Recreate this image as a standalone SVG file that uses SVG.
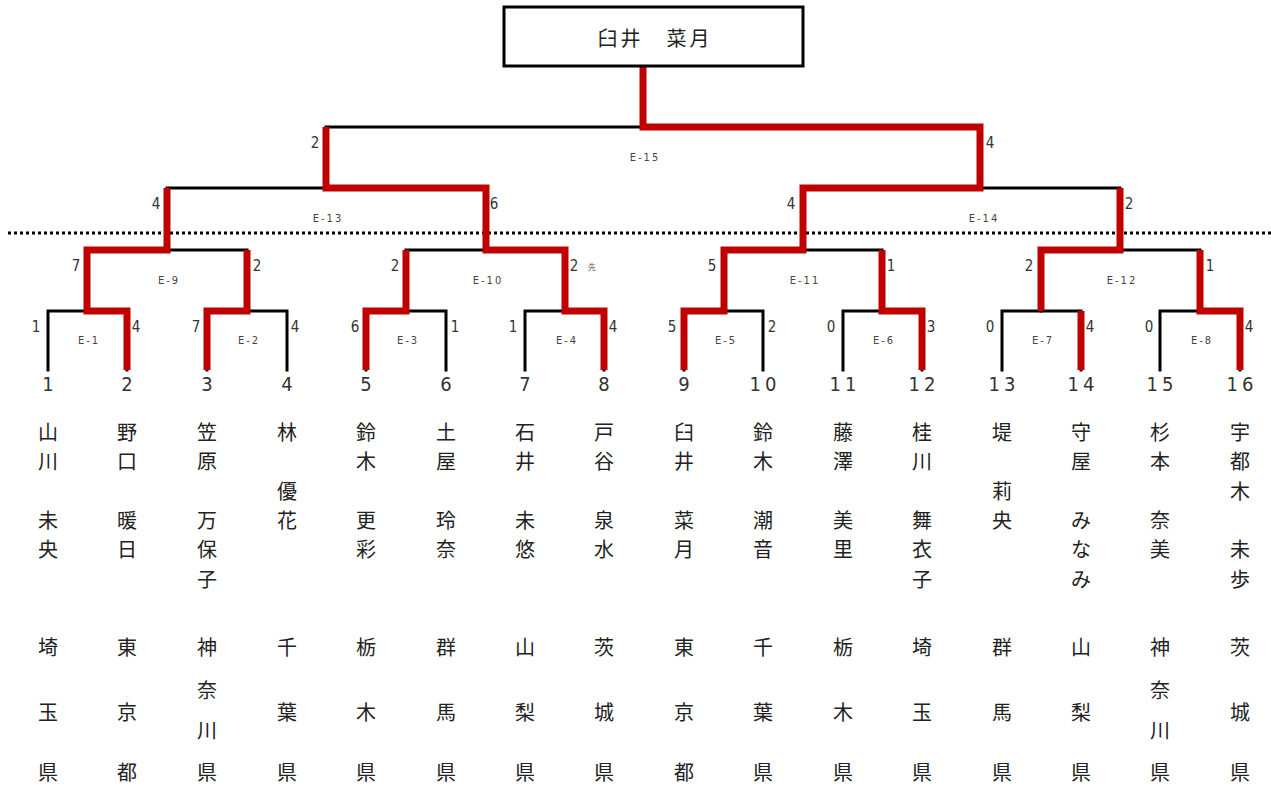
<svg xmlns="http://www.w3.org/2000/svg" width="1271" height="787" viewBox="0 0 1271 787">
<style>
.blk{fill:none;stroke:#000;stroke-width:3;stroke-linejoin:miter;stroke-linecap:square}
.red{fill:none;stroke:#C00000;stroke-width:7;stroke-linejoin:miter;stroke-linecap:butt}
.dot{stroke:#000;stroke-width:3;stroke-dasharray:3 3}
.sc{font-family:"DejaVu Sans Condensed","Liberation Sans",sans-serif;font-stretch:condensed;font-size:15px;fill:#333;text-anchor:middle;dominant-baseline:central}
.el{font-family:"DejaVu Sans Condensed","Liberation Sans",sans-serif;font-stretch:condensed;font-size:11px;fill:#444;text-anchor:middle;dominant-baseline:central;letter-spacing:2px}
.num{font-family:"DejaVu Sans Condensed","Liberation Sans",sans-serif;font-stretch:condensed;font-size:20px;fill:#333;text-anchor:middle;dominant-baseline:central}
.jp{font-family:"Noto Sans CJK JP","Noto Sans CJK SC",sans-serif;font-size:20px;fill:#222;text-anchor:middle;dominant-baseline:central}
.sen{font-family:"Noto Sans CJK JP",sans-serif;font-size:8px;fill:#555;dominant-baseline:central}
</style>
<rect width="1271" height="787" fill="#fff"/>
<line class="dot" x1="8" y1="233" x2="1271" y2="233"/>
<g id="connectors">
<g id="black-lines">
<path class="blk" d="M48,370V311H127V370M207,370V311H287V370M366,370V311H446V370M525,370V311H604V370M684,370V311H763V370M843,370V311H922V370M1002,370V311H1081V370M1160,370V311H1240V370"/>
<path class="blk" d="M87,311V250H247V311M406,311V250H565V311M724,311V250H882V311M1041,311V250H1200V311"/>
<path class="blk" d="M167,250V188H486V250M803,250V188H1120V250"/>
<path class="blk" d="M326,188V127H980V188"/>
</g>
<g id="red-lines">
<path class="red" d="M127,370V311H87V250H167V188"/>
<path class="red" d="M207,370V311H247V250"/>
<path class="red" d="M366,370V311H406V250"/>
<path class="red" d="M604,370V311H565V250H486V188H326V127"/>
<path class="red" d="M684,370V311H724V250H803V188H980V127H643V66"/>
<path class="red" d="M922,370V311H882V250"/>
<path class="red" d="M1081,370V311"/>
<path class="red" d="M1041,311V250H1120V188"/>
<path class="red" d="M1240,370V311H1200V250"/>
</g>
<g id="scores">
<text class="sc" x="36" y="327">1</text><text class="sc" x="136" y="327">4</text>
<text class="sc" x="196" y="327">7</text><text class="sc" x="295" y="327">4</text>
<text class="sc" x="355" y="327">6</text><text class="sc" x="455" y="327">1</text>
<text class="sc" x="513" y="327">1</text><text class="sc" x="613" y="327">4</text>
<text class="sc" x="672" y="327">5</text><text class="sc" x="772" y="327">2</text>
<text class="sc" x="831" y="327">0</text><text class="sc" x="931" y="327">3</text>
<text class="sc" x="990" y="327">0</text><text class="sc" x="1090" y="327">4</text>
<text class="sc" x="1149" y="327">0</text><text class="sc" x="1249" y="327">4</text>
<text class="sc" x="76" y="266">7</text><text class="sc" x="257" y="266">2</text>
<text class="sc" x="395" y="266">2</text><text class="sc" x="574" y="266">2</text>
<text class="sen" x="588" y="266">先</text>
<text class="sc" x="712" y="266">5</text><text class="sc" x="891" y="266">1</text>
<text class="sc" x="1029" y="266">2</text><text class="sc" x="1210" y="266">1</text>
<text class="sc" x="156" y="204">4</text><text class="sc" x="494" y="204">6</text>
<text class="sc" x="791" y="204">4</text><text class="sc" x="1129" y="204">2</text>
<text class="sc" x="315" y="143">2</text><text class="sc" x="990" y="143">4</text>
</g>
<g id="match-labels">
<text class="el" x="89" y="340">E-1</text><text class="el" x="249" y="340">E-2</text>
<text class="el" x="408" y="340">E-3</text><text class="el" x="567" y="340">E-4</text>
<text class="el" x="726" y="340">E-5</text><text class="el" x="884" y="340">E-6</text>
<text class="el" x="1043" y="340">E-7</text><text class="el" x="1202" y="340">E-8</text>
<text class="el" x="169" y="280">E-9</text><text class="el" x="488" y="280">E-10</text>
<text class="el" x="805" y="280">E-11</text><text class="el" x="1122" y="280">E-12</text>
<text class="el" x="328" y="218">E-13</text><text class="el" x="984" y="218">E-14</text>
<text class="el" x="645" y="157">E-15</text>
</g>
</g>
<g id="champion">
<rect x="504" y="7" width="299" height="59" fill="#fff" stroke="#000" stroke-width="3"/>
<text class="jp" x="655" y="37" font-size="22" letter-spacing="3">臼井　菜月</text>
</g>
<g id="e1"><text class="num" x="48" y="384">1</text><text class="jp"><tspan x="48" y="431">山</tspan><tspan x="48" y="460">川</tspan><tspan x="48" y="519">未</tspan><tspan x="48" y="548">央</tspan><tspan x="48" y="646">埼</tspan><tspan x="48" y="711">玉</tspan><tspan x="48" y="771">県</tspan></text></g>
<g id="e2"><text class="num" x="127" y="384">2</text><text class="jp"><tspan x="127" y="431">野</tspan><tspan x="127" y="460">口</tspan><tspan x="127" y="519">暖</tspan><tspan x="127" y="548">日</tspan><tspan x="127" y="646">東</tspan><tspan x="127" y="711">京</tspan><tspan x="127" y="771">都</tspan></text></g>
<g id="e3"><text class="num" x="207" y="384">3</text><text class="jp"><tspan x="207" y="431">笠</tspan><tspan x="207" y="460">原</tspan><tspan x="207" y="519">万</tspan><tspan x="207" y="548">保</tspan><tspan x="207" y="578">子</tspan><tspan x="207" y="646">神</tspan><tspan x="207" y="689">奈</tspan><tspan x="207" y="729">川</tspan><tspan x="207" y="771">県</tspan></text></g>
<g id="e4"><text class="num" x="287" y="384">4</text><text class="jp"><tspan x="287" y="431">林</tspan><tspan x="287" y="490">優</tspan><tspan x="287" y="519">花</tspan><tspan x="287" y="646">千</tspan><tspan x="287" y="711">葉</tspan><tspan x="287" y="771">県</tspan></text></g>
<g id="e5"><text class="num" x="366" y="384">5</text><text class="jp"><tspan x="366" y="431">鈴</tspan><tspan x="366" y="460">木</tspan><tspan x="366" y="519">更</tspan><tspan x="366" y="548">彩</tspan><tspan x="366" y="646">栃</tspan><tspan x="366" y="711">木</tspan><tspan x="366" y="771">県</tspan></text></g>
<g id="e6"><text class="num" x="446" y="384">6</text><text class="jp"><tspan x="446" y="431">土</tspan><tspan x="446" y="460">屋</tspan><tspan x="446" y="519">玲</tspan><tspan x="446" y="548">奈</tspan><tspan x="446" y="646">群</tspan><tspan x="446" y="711">馬</tspan><tspan x="446" y="771">県</tspan></text></g>
<g id="e7"><text class="num" x="525" y="384">7</text><text class="jp"><tspan x="525" y="431">石</tspan><tspan x="525" y="460">井</tspan><tspan x="525" y="519">未</tspan><tspan x="525" y="548">悠</tspan><tspan x="525" y="646">山</tspan><tspan x="525" y="711">梨</tspan><tspan x="525" y="771">県</tspan></text></g>
<g id="e8"><text class="num" x="604" y="384">8</text><text class="jp"><tspan x="604" y="431">戸</tspan><tspan x="604" y="460">谷</tspan><tspan x="604" y="519">泉</tspan><tspan x="604" y="548">水</tspan><tspan x="604" y="646">茨</tspan><tspan x="604" y="711">城</tspan><tspan x="604" y="771">県</tspan></text></g>
<g id="e9"><text class="num" x="684" y="384">9</text><text class="jp"><tspan x="684" y="431">臼</tspan><tspan x="684" y="460">井</tspan><tspan x="684" y="519">菜</tspan><tspan x="684" y="548">月</tspan><tspan x="684" y="646">東</tspan><tspan x="684" y="711">京</tspan><tspan x="684" y="771">都</tspan></text></g>
<g id="e10"><text class="num" x="765" y="384" letter-spacing="4">10</text><text class="jp"><tspan x="763" y="431">鈴</tspan><tspan x="763" y="460">木</tspan><tspan x="763" y="519">潮</tspan><tspan x="763" y="548">音</tspan><tspan x="763" y="646">千</tspan><tspan x="763" y="711">葉</tspan><tspan x="763" y="771">県</tspan></text></g>
<g id="e11"><text class="num" x="845" y="384" letter-spacing="4">11</text><text class="jp"><tspan x="843" y="431">藤</tspan><tspan x="843" y="460">澤</tspan><tspan x="843" y="519">美</tspan><tspan x="843" y="548">里</tspan><tspan x="843" y="646">栃</tspan><tspan x="843" y="711">木</tspan><tspan x="843" y="771">県</tspan></text></g>
<g id="e12"><text class="num" x="924" y="384" letter-spacing="4">12</text><text class="jp"><tspan x="922" y="431">桂</tspan><tspan x="922" y="460">川</tspan><tspan x="922" y="519">舞</tspan><tspan x="922" y="548">衣</tspan><tspan x="922" y="578">子</tspan><tspan x="922" y="646">埼</tspan><tspan x="922" y="711">玉</tspan><tspan x="922" y="771">県</tspan></text></g>
<g id="e13"><text class="num" x="1004" y="384" letter-spacing="4">13</text><text class="jp"><tspan x="1002" y="431">堤</tspan><tspan x="1002" y="490">莉</tspan><tspan x="1002" y="519">央</tspan><tspan x="1002" y="646">群</tspan><tspan x="1002" y="711">馬</tspan><tspan x="1002" y="771">県</tspan></text></g>
<g id="e14"><text class="num" x="1083" y="384" letter-spacing="4">14</text><text class="jp"><tspan x="1081" y="431">守</tspan><tspan x="1081" y="460">屋</tspan><tspan x="1081" y="519">み</tspan><tspan x="1081" y="548">な</tspan><tspan x="1081" y="578">み</tspan><tspan x="1081" y="646">山</tspan><tspan x="1081" y="711">梨</tspan><tspan x="1081" y="771">県</tspan></text></g>
<g id="e15"><text class="num" x="1162" y="384" letter-spacing="4">15</text><text class="jp"><tspan x="1160" y="431">杉</tspan><tspan x="1160" y="460">本</tspan><tspan x="1160" y="519">奈</tspan><tspan x="1160" y="548">美</tspan><tspan x="1160" y="646">神</tspan><tspan x="1160" y="689">奈</tspan><tspan x="1160" y="729">川</tspan><tspan x="1160" y="771">県</tspan></text></g>
<g id="e16"><text class="num" x="1242" y="384" letter-spacing="4">16</text><text class="jp"><tspan x="1240" y="431">宇</tspan><tspan x="1240" y="460">都</tspan><tspan x="1240" y="490">木</tspan><tspan x="1240" y="548">未</tspan><tspan x="1240" y="578">歩</tspan><tspan x="1240" y="646">茨</tspan><tspan x="1240" y="711">城</tspan><tspan x="1240" y="771">県</tspan></text></g>
</svg>
